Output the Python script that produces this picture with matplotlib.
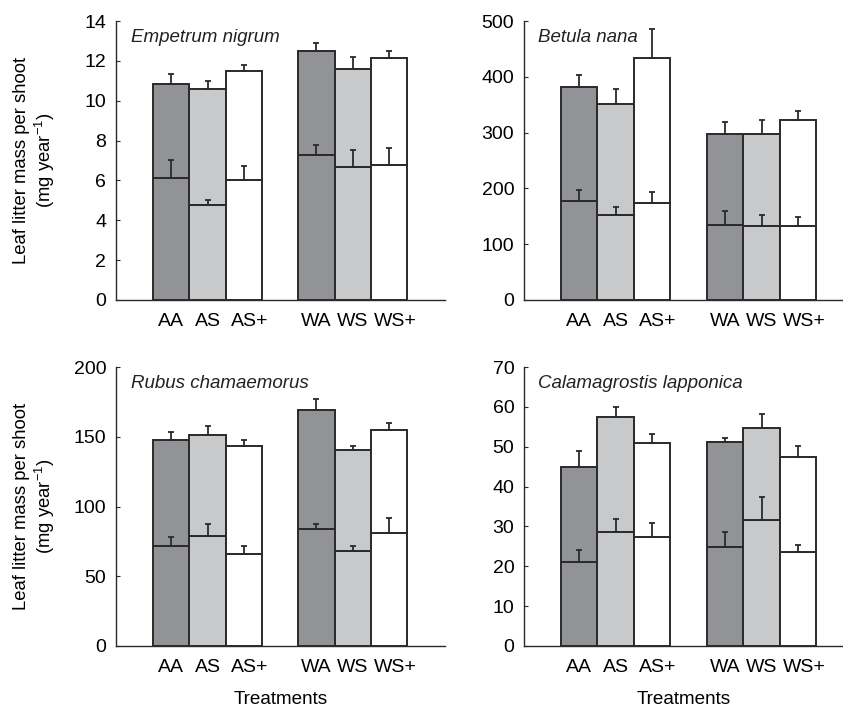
import matplotlib
matplotlib.use('Agg')
import matplotlib.pyplot as plt
import matplotlib.transforms as mtrans
import numpy as np

plt.rcParams['font.family'] = ['Liberation Sans', 'DejaVu Sans']
plt.rcParams['mathtext.fontset'] = 'custom'
plt.rcParams['mathtext.rm'] = 'Liberation Sans'

treatments = ['AA', 'AS', 'AS+', 'WA', 'WS', 'WS+']
positions = [0, 1, 2, 4, 5, 6]
fills = ['#929396', '#c8c9cb', '#ffffff', '#929396', '#c8c9cb', '#ffffff']

species = ['Empetrum nigrum', 'Betula nana', 'Rubus chamaemorus', 'Calamagrostis lapponica']

# total litter mass (bar top) and its upper error
total = [
    [10.86, 10.59, 11.48, 12.48, 11.59, 12.16],
    [381, 352, 433, 298, 297, 322],
    [147.5, 151, 143.2, 169.2, 140.3, 154.9],
    [44.9, 57.4, 50.9, 51.1, 54.8, 47.5],
]
total_err = [
    [0.50, 0.40, 0.33, 0.42, 0.61, 0.32],
    [22, 27, 53, 21, 25, 17],
    [6.2, 6.8, 4.8, 7.8, 2.9, 5.0],
    [4.1, 2.6, 2.4, 1.1, 3.3, 2.8],
]
# inner line (lower part) and its upper error
lower = [
    [6.13, 4.79, 6.01, 7.30, 6.65, 6.75],
    [178, 152, 174, 134, 133, 133],
    [71.8, 78.5, 66.3, 83.8, 68.3, 81.1],
    [21.1, 28.5, 27.3, 24.8, 31.6, 23.5],
]
lower_err = [
    [0.92, 0.22, 0.71, 0.47, 0.88, 0.88],
    [20, 14, 19, 26, 20, 15],
    [6.5, 9.1, 5.3, 3.8, 3.5, 10.3],
    [3.1, 3.3, 3.6, 3.8, 5.7, 1.8],
]
ymax = [14, 500, 200, 70]
ystep = [2, 100, 50, 10]

W, H = 843, 707
fig = plt.figure(figsize=(W / 100, H / 100), dpi=100)
boxes = [
    [116 / W, 1 - 300 / H, 329 / W, 279 / H],
    [524 / W, 1 - 300 / H, 319 / W, 279 / H],
    [116 / W, 1 - 646 / H, 329 / W, 279 / H],
    [524 / W, 1 - 646 / H, 319 / W, 279 / H],
]
xlims = [(-1.52, 7.54), (-1.51, 7.23), (-1.52, 7.54), (-1.51, 7.23)]
edge = '#2a2a2a'

for i in range(4):
    ax = fig.add_axes(boxes[i])
    lo = np.array(lower[i])
    tot = np.array(total[i])
    ax.bar(positions, lo, width=1.0, color=fills, edgecolor=edge, linewidth=1.4, zorder=2)
    ax.bar(positions, tot - lo, bottom=lo, width=1.0, color=fills, edgecolor=edge,
           linewidth=1.4, zorder=2)
    ax.errorbar(positions, tot, yerr=[np.zeros(6), total_err[i]], fmt='none',
                ecolor=edge, elinewidth=1.3, capsize=2.5, capthick=1.3, zorder=3)
    ax.errorbar(positions, lo, yerr=[np.zeros(6), lower_err[i]], fmt='none',
                ecolor=edge, elinewidth=1.3, capsize=2.5, capthick=1.3, zorder=3)
    ax.set_xlim(*xlims[i])
    ax.set_ylim(0, ymax[i])
    ax.set_yticks(np.arange(0, ymax[i] + 1e-9, ystep[i]))
    ax.set_xticks([])
    # treatment labels: "+" labels sit a little right, as in the original
    base = ax.get_xaxis_transform()
    for p, name in zip(positions, treatments):
        dx = 6 / 100 if name.endswith('+') else 0
        tr = base + mtrans.ScaledTranslation(dx, -22 / 100, fig.dpi_scale_trans)
        ax.text(p, 0, name, transform=tr, fontsize=14, ha='center', va='center')
    ax.tick_params(axis='y', direction='in', length=3, labelsize=14, pad=7, color=edge)
    for s in ['top', 'right']:
        ax.spines[s].set_visible(False)
    for s in ['left', 'bottom']:
        ax.spines[s].set_color(edge)
        ax.spines[s].set_linewidth(1.0)
    ax.text(0.045, 0.94, species[i], transform=ax.transAxes, fontsize=13.5,
            style='italic', ha='left', va='center', color='#222222')
    if i % 2 == 0:
        ax.set_ylabel('Leaf litter mass per shoot\n(mg year$^{-1}$)', fontsize=13.3,
                      linespacing=1.15)
        ax.yaxis.set_label_coords(-0.245, 0.5)
        ax.yaxis.label.set_va('center')
    if i >= 2:
        ax.set_xlabel('Treatments', fontsize=13.6)
        ax.xaxis.set_label_coords(0.5, -54 / 279)
        ax.xaxis.label.set_va('center')

plt.savefig('out.png', format='png', dpi=100)
plt.close()
